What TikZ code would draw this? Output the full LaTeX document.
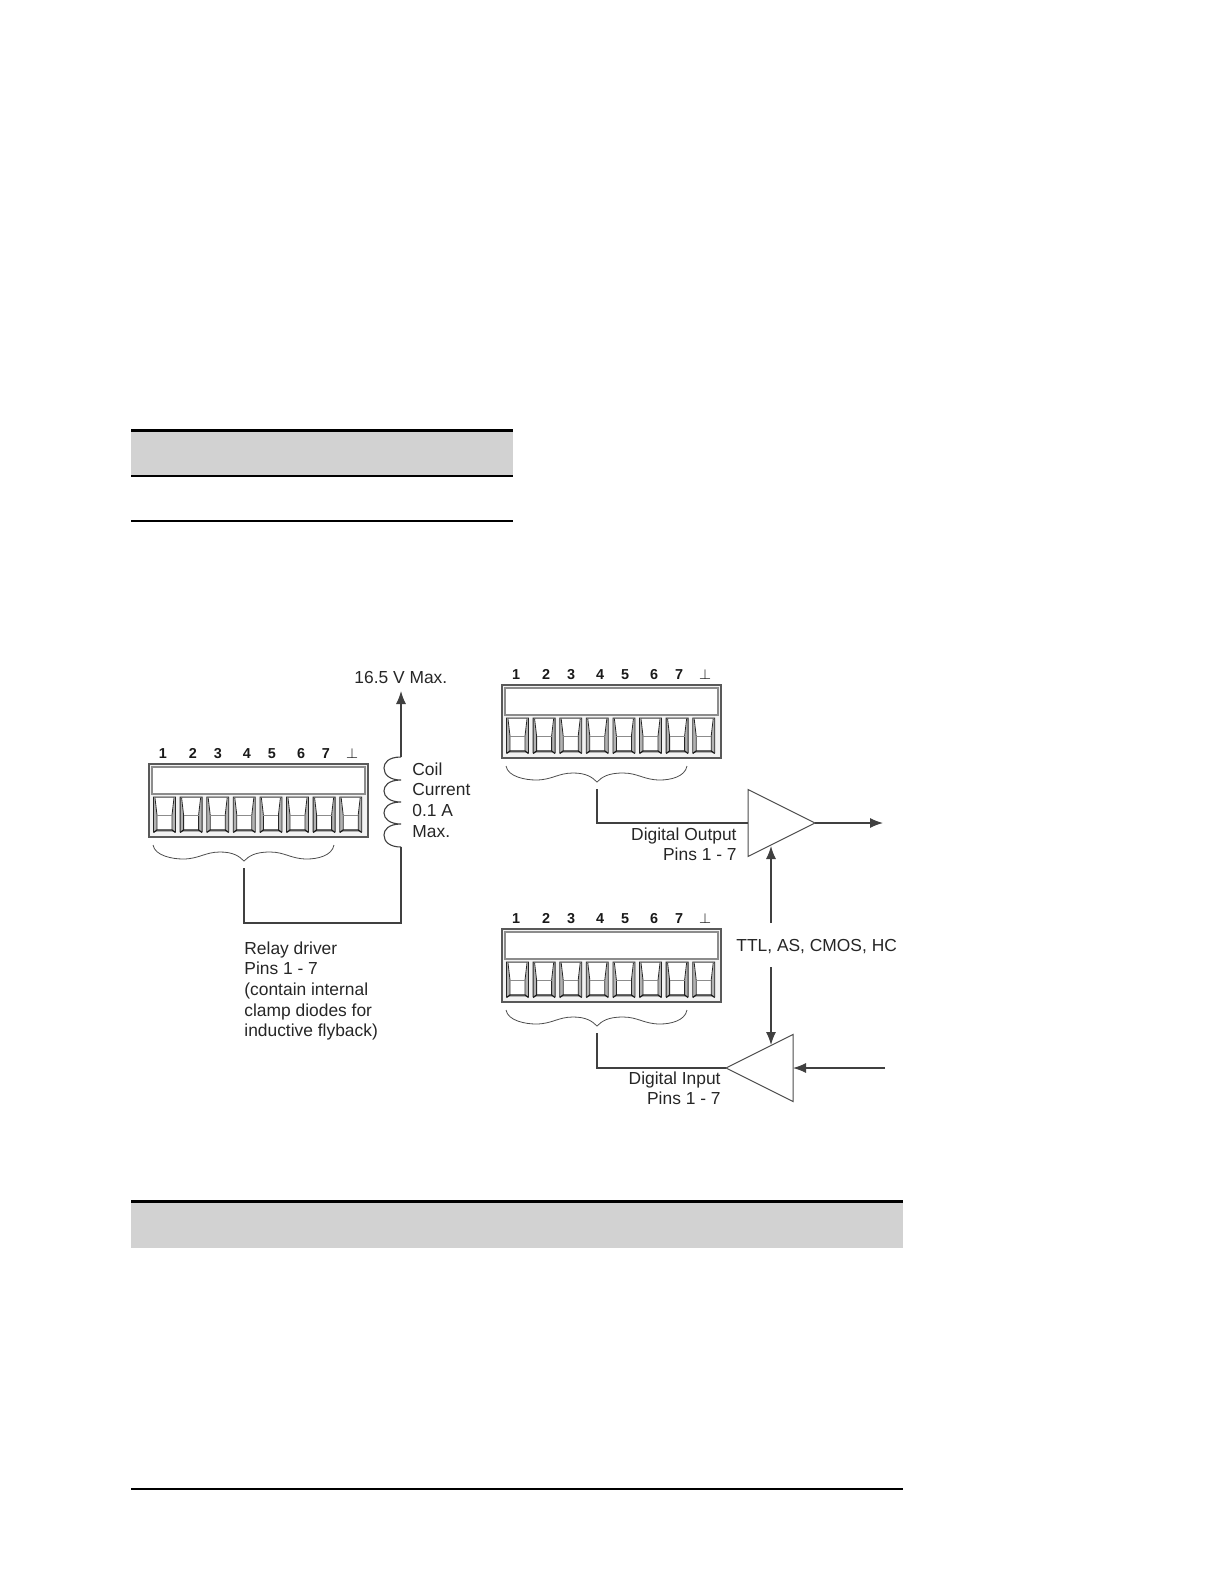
\documentclass[tikz,border=0pt]{standalone}
\usepackage{fontspec}
\setmainfont{Liberation Sans}
\usetikzlibrary{shapes.geometric,arrows.meta}
\definecolor{bar}{HTML}{D2D2D2}
\tikzstyle{wire}=[black!75,line width=0.6pt]
\tikzstyle{sig}=[wire,-{Latex[length=6.5pt,width=5pt]}]
\tikzstyle{lbl}=[inner sep=0pt,align=left,text=black!85,font=\fontsize{8.7}{10.35}\selectfont]
\tikzstyle{pin}=[inner sep=0pt,anchor=base,text=black!90,font=\fontsize{7.2}{8}\selectfont\bfseries]
\tikzstyle{amp}=[draw=black!70,line width=0.5pt,isosceles triangle,isosceles triangle stretches,minimum width=33.5pt,minimum height=33.5pt,inner sep=0pt,outer sep=0pt]
\tikzset{
  termblock/.pic={
    \draw[black!65,fill=black!5,line width=0.6pt] (0,0) rectangle (219,73);
    \draw[black!45,fill=white,line width=0.7pt] (3,3) rectangle (216,30);
    \foreach \i in {0,...,7} {
      \begin{scope}[shift={(4.5+26.6*\i,33)}]
        \fill[black!30] (0,0) rectangle (22,35);
        \fill[white] (1,1) -- (21,1) -- (18.5,18) -- (18.5,33) -- (3.5,33) -- (3.5,18) -- (1,1) -- cycle;
        \draw[black!85,line width=0.4pt] (0,35) -- (0,0) -- (22,0) -- (22,35) (1.5,1) -- (3.5,18) -- (3.5,33) (20.5,1) -- (18.5,18) -- (18.5,33);
        \draw[black!45,line width=0.4pt] (3.5,18) -- (18.5,18);
        \draw[black!90,line width=0.6pt] (0,35.5) -- (3.5,33) -- (18.5,33) -- (22,35.5);
      \end{scope}
    }
    \foreach \i/\lx in {1/14,2/44,3/69,4/98,5/123,6/152,7/177}
      \node[pin] (-p\i) at (\lx,-5.5) {\i};
    \node[pin] (-gnd) at (203,-5.5) {$\perp$};
    \draw[black!70,line width=0.4pt] (4,81) .. controls (6,92) and (24,95) .. (34,95) .. controls (50,95) and (56,88) .. (71,88) .. controls (84,88) and (90,92) .. (95,97) .. controls (100,92) and (106,88) .. (121,88) .. controls (136,88) and (142,95) .. (158,95) .. controls (168,95) and (183,92) .. (185,81);
    \coordinate (-tail) at (95,104);
  }
}
\begin{document}
\begin{tikzpicture}[x=0.5pt,y=-0.5pt]
    \useasboundingbox (0,0) rectangle (1224,1584);
    \fill[bar] (131,431) rectangle (513,476);
    \fill[black] (131,429) rectangle (513,432);
    \fill[black] (131,475) rectangle (513,477);
    \fill[black] (131,520) rectangle (513,522);
    \fill[bar] (131,1202) rectangle (903,1248);
    \fill[black] (131,1200) rectangle (903,1203);
    \fill[black] (131,1488) rectangle (903,1490);

    \pic (drv) at (149,764) {termblock};
    \pic (outblk) at (502,685) {termblock};
    \pic (inblk) at (502,929) {termblock};

    \coordinate (coiltop) at (401,757);
    \coordinate (coilbot) at (401,847);
    \coordinate (vtip) at (401,691);
    \coordinate (drvturn) at (401,923);
    \draw[sig] (coiltop) -- (vtip);
    \draw[wire,line width=0.55pt] (coiltop) .. controls (388,757) and (384,763) .. (384,768) .. controls (384,775) and (390,780) .. (401,780)
      .. controls (388,780) and (384,786) .. (384,791) .. controls (384,797) and (390,802) .. (401,802)
      .. controls (388,802) and (384,808) .. (384,813) .. controls (384,819) and (390,824) .. (401,824)
      .. controls (388,824) and (384,830) .. (384,835) .. controls (384,842) and (390,847) .. (coilbot);
    \draw[wire] (drv-tail) |- (drvturn) -- (coilbot);

    \node[lbl,anchor=west] (vmax) at (354,678) {16.5 V Max.};
    \node[lbl,anchor=north west] (coil) at (412,762) {Coil\\Current\\0.1 A\\Max.};
    \node[lbl,anchor=north west] (relay) at (244,941) {Relay driver\\Pins 1 - 7\\(contain internal\\clamp diodes for\\inductive flyback)};

    \node[amp,anchor=lower side] (outamp) at (748,823) {};
    \node[amp,shape border rotate=180,anchor=lower side] (inamp) at (793,1068) {};
    \coordinate (outend) at (883,823);
    \coordinate (inend) at (885,1068);
    \draw[wire] (outblk-tail) |- (outamp.lower side);
    \draw[wire] (inblk-tail) |- (inamp.apex);
    \draw[sig] (outamp.apex) -- (outend);
    \draw[sig] (inend) -- (inamp.lower side);

    \node[lbl,anchor=west] (ttl) at (736,947) {TTL, AS, CMOS, HC};
    \coordinate (ttlup) at (771,923);
    \coordinate (ttldn) at (771,967);
    \coordinate (outen) at (771,846);
    \coordinate (inen) at (771,1045);
    \draw[sig] (ttlup) -- (outen);
    \draw[sig] (ttldn) -- (inen);

    \node[lbl,align=right,anchor=north east] (dout) at (737,827) {Digital Output\\Pins 1 - 7};
    \node[lbl,align=right,anchor=north east] (din) at (721,1071) {Digital Input\\Pins 1 - 7};
\end{tikzpicture}
\end{document}
